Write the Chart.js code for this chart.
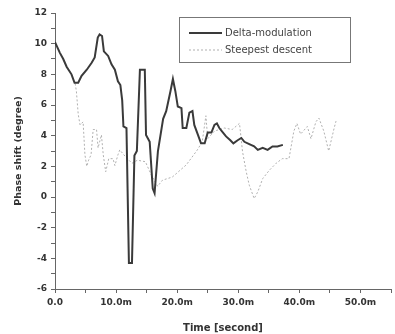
<!DOCTYPE html>
<html>
<head>
<meta charset="utf-8">
<script src="https://cdn.jsdelivr.net/npm/chart.js@4/dist/chart.umd.min.js"></script>
<style>
    body { margin: 0; background: #fff; }
    canvas { display: block; }
</style>
</head>
<body>
<canvas id="phaseChart" width="395" height="334"></canvas>
<script>
// Delta-modulation (solid line)
const deltaTime = [0, 0.8, 1.35, 1.9, 2.7, 3.2, 3.8, 4.35, 5.2, 6.0, 6.5, 7.0, 7.3, 7.7, 8.0, 8.7, 9.25, 9.8,
    10.3, 10.7, 11.0, 11.2, 11.7, 12.1, 12.6, 13.0, 13.4, 13.9, 14.7, 14.9, 15.5, 16.0, 16.3, 16.85,
    17.7, 18.2, 18.9, 19.3, 19.7, 20.1, 20.7, 20.9, 21.5, 22.0, 22.5, 22.8, 23.4, 23.9, 24.5, 25.0,
    25.6, 26.1, 26.5, 26.9, 27.5, 28.0, 28.7, 29.2, 29.9, 30.5, 31.0, 31.8, 32.6, 33.2, 34.0, 34.8,
    35.6, 36.4, 37.3];
const deltaPhase = [10.1, 9.4, 9.0, 8.5, 8.0, 7.45, 7.45, 7.9, 8.3, 8.75, 9.1, 10.4, 10.6, 10.5, 9.5, 9.2, 8.65, 8.3,
    7.55, 7.3, 6.3, 4.6, 4.5, -4.3, -4.3, 2.7, 3.0, 8.3, 8.3, 4.05, 3.6, 0.55, 0.25, 3.0,
    5.1, 5.6, 6.9, 7.7, 6.9, 5.9, 5.8, 4.5, 4.5, 5.5, 5.6, 4.7, 4.05, 3.5, 3.5, 4.2,
    4.2, 4.7, 4.8, 4.5, 4.2, 3.95, 3.7, 3.5, 3.7, 3.85, 3.6, 3.45, 3.3, 3.07, 3.2, 3.07,
    3.3, 3.3, 3.4];

// Steepest descent (dotted line)
const steepTime = [3.3, 3.5, 3.8, 4.1, 4.6, 4.9, 5.2, 5.5, 5.9, 6.25, 6.8, 7.05, 7.6, 7.9, 8.3, 8.8, 9.5, 9.8,
    10.3, 10.6, 11.6, 12.6, 13.5, 14.8, 15.8, 16.8, 17.6, 19.2, 21.5, 23.3, 24.1, 24.7, 25.0, 26.1,
    27.7, 29.0, 30.2, 30.7, 31.3, 31.8, 32.6, 33.2, 34.0, 35.1, 36.2, 37.2, 38.3, 39.1, 39.6, 40.2,
    41.3, 41.9, 42.7, 43.2, 44.0, 44.8, 45.7, 46.0];
const steepPhase = [7.4, 6.9, 5.4, 4.7, 4.9, 2.75, 2.0, 2.4, 2.75, 4.4, 4.4, 3.2, 4.05, 2.75, 1.65, 2.5, 2.5, 2.05,
    2.75, 3.07, 2.6, 2.2, 2.4, 2.3, 1.4, 0.7, 1.1, 1.3, 2.1, 3.07, 3.6, 5.3, 3.8, 4.3,
    4.5, 4.4, 4.8, 2.95, 1.65, 0.77, -0.1, 0.34, 1.2, 1.75, 2.2, 2.5, 2.5, 4.3, 4.8, 4.1,
    4.6, 3.8, 4.9, 5.15, 4.3, 3.0, 4.5, 4.95];

const legendNames = ['Delta-modulation', 'Steepest descent'];

const yTicks = { min: -6, max: 12, step: 1, labelEvery: 2 };
const xTicks = { min: 0, max: 55, step: 5, labelEvery: 10 };

function toPoints(xs, ys) {
    return xs.map((x, i) => ({ x: x, y: ys[i] }));
}

const axisColor = '#666';
const fontFamily = '"DejaVu Sans", Verdana, sans-serif';
const tickFont = { family: fontFamily, size: 9, weight: 'bold' };

// boxed legend in the upper right of the plot
const boxedLegend = {
    id: 'boxedLegend',
    afterDraw(chart) {
        const ctx = chart.ctx;
        const area = chart.chartArea;
        const left = area.left + 124;
        const top = area.top + 4;
        const width = 171;
        const height = 45;
        ctx.save();
        ctx.strokeStyle = '#777';
        ctx.lineWidth = 1;
        ctx.strokeRect(left + 0.5, top + 0.5, width, height);
        ctx.font = '10px ' + fontFamily;
        ctx.fillStyle = '#444';
        ctx.textBaseline = 'middle';
        chart.data.datasets.forEach((ds, i) => {
            const y = top + 16 + i * 17;
            ctx.beginPath();
            ctx.strokeStyle = ds.borderColor;
            ctx.lineWidth = ds.borderWidth;
            ctx.setLineDash(ds.borderDash || []);
            ctx.moveTo(left + 10, y);
            ctx.lineTo(left + 43, y);
            ctx.stroke();
            ctx.setLineDash([]);
            ctx.fillText(ds.label, left + 46, y);
        });
        ctx.restore();
    }
};

document.addEventListener('DOMContentLoaded', function() {
    const ctx = document.getElementById('phaseChart').getContext('2d');
    new Chart(ctx, {
        type: 'line',
        data: {
            datasets: [{
                label: legendNames[0],
                data: toPoints(deltaTime, deltaPhase),
                borderColor: '#3a3a3a',
                borderWidth: 2,
                pointRadius: 0,
                tension: 0,
                fill: false
            }, {
                label: legendNames[1],
                data: toPoints(steepTime, steepPhase),
                borderColor: '#b0b0b0',
                borderWidth: 1,
                borderDash: [2, 2],
                pointRadius: 0,
                tension: 0,
                fill: false
            }]
        },
        options: {
            responsive: false,
            animation: false,
            layout: { padding: { top: 13, right: 3, left: 0, bottom: 0 } },
            plugins: {
                legend: { display: false },
                tooltip: { enabled: false }
            },
            scales: {
                x: {
                    type: 'linear',
                    min: xTicks.min,
                    max: xTicks.max,
                    afterFit: (scale) => { scale.height = 45; },
                    border: { display: true, color: axisColor, width: 1 },
                    grid: { drawOnChartArea: false, drawTicks: true, tickLength: 4, color: axisColor },
                    ticks: {
                        stepSize: xTicks.step,
                        autoSkip: false,
                        maxRotation: 0,
                        padding: 4,
                        color: '#333',
                        font: tickFont,
                        callback: (v) => {
                            if (v % xTicks.labelEvery !== 0) return '';
                            return v === 0 ? '0.0' : v.toFixed(1) + 'm';
                        }
                    },
                    title: {
                        display: true,
                        text: 'Time [second]',
                        color: '#333',
                        font: { family: fontFamily, size: 10, weight: 'bold' },
                        padding: { top: 1, bottom: 0 }
                    }
                },
                y: {
                    type: 'linear',
                    min: yTicks.min,
                    max: yTicks.max,
                    afterFit: (scale) => { scale.width = 55; },
                    border: { display: true, color: axisColor, width: 1 },
                    grid: { drawOnChartArea: false, drawTicks: true, tickLength: 4, color: axisColor },
                    ticks: {
                        stepSize: yTicks.step,
                        autoSkip: false,
                        padding: 4,
                        color: '#333',
                        font: tickFont,
                        callback: (v) => (v % yTicks.labelEvery === 0 ? String(v) : '')
                    },
                    title: {
                        display: true,
                        text: 'Phase shift (degree)',
                        color: '#333',
                        font: { family: fontFamily, size: 9.5, weight: 'bold' },
                        padding: { top: 13, bottom: 4 }
                    }
                }
            }
        },
        plugins: [boxedLegend]
    });
});
</script>
</body>
</html>
